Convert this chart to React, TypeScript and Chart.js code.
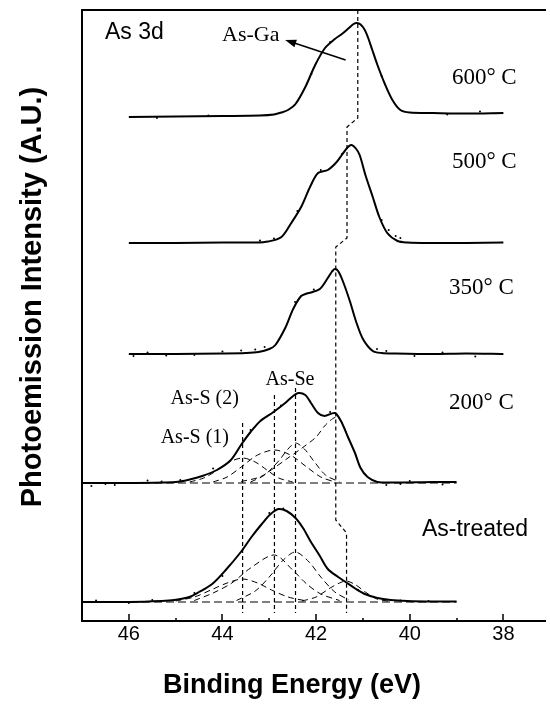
import React, { useEffect, useRef } from "react";
import { Chart, registerables } from "chart.js";

Chart.register(...registerables);

const SANS = '"Liberation Sans", Arial, Helvetica, sans-serif';
const SERIF = '"Liberation Serif", "Times New Roman", Times, serif';

// Binding-energy window (eV); the axis runs from high to low energy
const E_MAX = 47;
const E_MIN = 37.09;
const Y_MAX = 122.2;
const MAJOR_TICKS = [46, 44, 42, 40, 38];
const MINOR_TICKS = [45, 43, 41, 39];

// Vertical offsets of the stacked spectra (A.U.)
const OFFSET_600 = 100.8;
const OFFSET_500 = 75.6;
const OFFSET_350 = 53.4;
const OFFSET_200 = 27.6;
const OFFSET_AT = 3.8;

// As 3d envelopes: energy (eV) and intensity above each baseline
const E_600 = [46.0, 45.0, 44.0, 43.2, 42.9, 42.74, 42.6, 42.44, 42.23, 42.02, 41.81, 41.6, 41.45, 41.3, 41.2, 41.13, 41.05, 40.96, 40.88, 40.8, 40.69, 40.54, 40.37, 40.2, 40.0, 39.5, 38.8, 38.0];
const I_600 = [0, 0.1, 0.2, 0.3, 0.5, 0.9, 1.4, 2.6, 6.0, 10.4, 13.8, 15.6, 16.6, 17.8, 18.6, 18.8, 18.5, 17.4, 15.6, 13.4, 10.4, 6.8, 3.4, 1.4, 0.9, 0.8, 0.7, 0.8];

const E_500 = [46.0, 45.0, 44.0, 43.3, 43.02, 42.74, 42.53, 42.32, 42.13, 41.96, 41.75, 41.58, 41.45, 41.32, 41.24, 41.15, 41.07, 40.94, 40.79, 40.65, 40.48, 40.26, 40.05, 39.5, 38.8, 38.0];
const I_500 = [0, 0, 0.1, 0.1, 0.3, 1.2, 4.0, 7.2, 11.2, 14.0, 14.6, 16.0, 17.6, 19.2, 19.6, 18.9, 17.6, 13.4, 9.2, 5.2, 2.0, 0.4, 0.1, 0, 0, 0.1];

const E_350 = [46.0, 45.0, 44.0, 43.5, 43.23, 43.0, 42.87, 42.66, 42.49, 42.32, 42.2, 42.11, 41.92, 41.75, 41.66, 41.6, 41.53, 41.43, 41.28, 41.15, 41.0, 40.79, 40.6, 40.3, 39.5, 38.8, 38.0];
const I_350 = [0, 0, 0.1, 0.2, 0.4, 1.0, 1.8, 5.2, 9.0, 11.6, 12.1, 12.3, 13.0, 15.2, 16.5, 17.0, 16.6, 14.6, 10.6, 6.6, 3.0, 0.6, 0.2, 0.1, 0, 0.1, 0];

const E_200 = [47.0, 46.0, 45.0, 44.7, 44.43, 44.12, 43.82, 43.59, 43.4, 43.19, 42.91, 42.66, 42.49, 42.38, 42.23, 42.11, 41.96, 41.82, 41.6, 41.47, 41.32, 41.17, 41.05, 40.9, 40.69, 40.3, 39.5, 39.0];
const I_200 = [0, 0, 0.2, 0.7, 1.4, 2.6, 4.6, 7.8, 10.2, 12.4, 14.2, 16.0, 17.4, 18.0, 17.6, 16.0, 14.0, 13.4, 14.0, 12.4, 9.2, 6.0, 3.0, 1.2, 0.2, 0.1, 0.2, 0.2];

const E_AT = [47.0, 46.0, 45.3, 45.03, 44.71, 44.5, 44.22, 43.93, 43.59, 43.38, 43.16, 42.97, 42.8, 42.63, 42.44, 42.28, 42.11, 41.92, 41.75, 41.53, 41.37, 41.15, 40.96, 40.69, 40.41, 40.05, 39.5, 39.0];
const I_AT = [0, 0, 0.2, 0.4, 1.0, 2.0, 3.6, 6.4, 10.2, 13.0, 15.6, 17.6, 18.6, 18.2, 16.8, 14.8, 12.0, 9.2, 6.6, 5.0, 4.0, 2.6, 1.6, 0.8, 0.4, 0.2, 0.1, 0.1];

// Fitted components, 200 °C
const E_200_S1 = [44.7, 44.4, 44.1, 43.85, 43.57, 43.3, 43.05, 42.8, 42.5];
const I_200_S1 = [0.2, 1.0, 2.6, 4.2, 5.0, 4.2, 2.6, 1.0, 0.2];
const E_200_S2 = [44.2, 43.9, 43.6, 43.25, 42.89, 42.55, 42.2, 41.9, 41.6];
const I_200_S2 = [0.2, 1.2, 3.2, 5.6, 6.6, 5.6, 3.2, 1.2, 0.2];
const E_200_SE = [43.4, 43.1, 42.8, 42.6, 42.44, 42.25, 42.05, 41.8, 41.5];
const I_200_SE = [0.2, 1.6, 4.4, 6.8, 8.0, 6.8, 4.4, 1.6, 0.2];
const E_200_GA = [43.6, 43.2, 42.9, 42.6, 42.3, 42.0, 41.8, 41.57, 41.45, 41.32, 41.17, 41.05, 40.9, 40.7];
const I_200_GA = [0.3, 1.2, 3.0, 5.0, 7.0, 9.2, 11.6, 13.2, 12.2, 9.2, 6.0, 3.0, 1.2, 0.2];

// Fitted components, as-treated
const E_AT_S1 = [45.0, 44.6, 44.2, 43.9, 43.57, 43.25, 42.95, 42.6, 42.2];
const I_AT_S1 = [0.2, 1.0, 2.6, 3.8, 4.6, 3.8, 2.4, 1.0, 0.2];
const E_AT_S2 = [44.6, 44.2, 43.8, 43.4, 42.89, 42.5, 42.2, 41.9, 41.5];
const I_AT_S2 = [0.3, 1.8, 3.8, 6.8, 9.4, 6.4, 3.6, 1.6, 0.3];
const E_AT_SE = [43.7, 43.3, 43.0, 42.7, 42.44, 42.15, 41.9, 41.6, 41.3];
const I_AT_SE = [0.3, 2.2, 5.0, 8.4, 10.0, 8.0, 5.0, 2.0, 0.4];
const E_AT_GA = [42.3, 42.0, 41.7, 41.5, 41.35, 41.15, 40.95, 40.7, 40.4];
const I_AT_GA = [0.2, 1.0, 2.8, 3.8, 4.2, 3.4, 2.0, 0.6, 0.1];

// Measured points scattered about the envelopes
const DOTS_600_E = [45.4, 44.3, 42.1, 41.7, 40.6, 39.2, 38.5];
const DOTS_600_I = [-0.2, 0.3, 8.6, 15.0, 8.2, 0.5, 1.1];
const DOTS_500_E = [43.2, 42.9, 42.4, 41.9, 41.45, 40.6, 40.45, 40.3, 40.2];
const DOTS_500_I = [0.5, 0.9, 6.4, 14.6, 17.8, 4.6, 2.6, 1.4, 1.0];
const DOTS_350_E = [45.9, 45.6, 45.2, 44.6, 44.0, 43.6, 43.3, 43.1, 42.45, 42.05, 41.65, 40.7, 40.5, 39.9, 39.3, 38.6];
const DOTS_350_I = [-0.4, 0.3, -0.3, -0.2, 0.5, 0.7, 0.9, 1.4, 10.4, 12.9, 16.6, 1.0, 0.6, -0.4, 0.3, -0.5];
const DOTS_200_E = [46.8, 46.5, 46.3, 45.6, 45.3, 44.9, 44.2, 43.4, 42.75, 41.7, 40.5, 40.2, 40.0, 39.3];
const DOTS_200_I = [-0.6, -0.2, -0.4, 0.5, 0.3, 0.6, 2.9, 10.6, 15.5, 14.2, -0.4, -0.2, 0.4, -0.3];
const DOTS_AT_E = [46.7, 46.0, 45.5, 44.6, 44.0, 43.0, 42.7, 41.1, 40.2, 39.6];
const DOTS_AT_I = [0.3, -0.2, 0.4, 1.8, 5.2, 17.8, 18.7, 2.4, 0.3, 0.2];

// Component positions (eV) and the heights their guide lines reach
const MARKER_E = [43.57, 42.89, 42.44];
const MARKER_TOP = [39.6, 45.2, 46.6];
const MARKER_BOTTOM = 1.6;

// As-Ga peak position followed through the series
const GA_GUIDE_E = [41.11, 41.11, 41.34, 41.34, 41.58, 41.58, 41.35, 41.35];
const GA_GUIDE_Y = [122.2, 100.6, 98.8, 76.6, 74.8, 20.2, 17.6, 1.6];

// Baselines of the fitted spectra
const BASE_E = [47.0, 39.0];

const LABELS = [
  { text: "As 3d", e: 46.51, y: 117.6, font: `23px ${SANS}` },
  { text: "As-Ga", e: 44.01, y: 117.2, font: `22px ${SERIF}` },
  { text: "600° C", e: 39.1, y: 108.6, font: `23px ${SERIF}` },
  { text: "500° C", e: 39.1, y: 91.8, font: `23px ${SERIF}` },
  { text: "350° C", e: 39.16, y: 66.6, font: `23px ${SERIF}` },
  { text: "200° C", e: 39.16, y: 43.6, font: `23px ${SERIF}` },
  { text: "As-treated", e: 39.74, y: 18.2, font: `23px ${SANS}` },
  { text: "As-S (2)", e: 45.11, y: 44.4, font: `20px ${SERIF}` },
  { text: "As-S (1)", e: 45.32, y: 36.6, font: `20px ${SERIF}` },
  { text: "As-Se", e: 43.08, y: 48.2, font: `20px ${SERIF}` },
];

const ARROW_FROM = [41.37, 112.2];
const ARROW_TO = [42.66, 116.2];

const X_TITLE = "Binding Energy (eV)";
const Y_TITLE = "Photoemission Intensity (A.U.)";

const toPoints = (E: number[], I: number[], off: number) =>
  E.map((e, i) => ({ x: e, y: I[i] + off }));

const envelope = (E: number[], I: number[], off: number) => ({
  data: toPoints(E, I, off),
  borderColor: "#000",
  borderWidth: 2,
  pointRadius: 0,
  tension: 0.3,
  fill: false,
});

const component = (E: number[], I: number[], off: number) => ({
  data: toPoints(E, I, off),
  borderColor: "#000",
  borderWidth: 1,
  borderDash: [6, 4],
  pointRadius: 0,
  tension: 0.3,
  fill: false,
});

const dots = (E: number[], I: number[], off: number) => ({
  data: toPoints(E, I, off),
  showLine: false,
  pointRadius: 1,
  pointBorderWidth: 0,
  pointBackgroundColor: "#000",
  borderColor: "#000",
});

const guide = (pts: { x: number; y: number }[], dash: number[], width = 1.2) => ({
  data: pts,
  borderColor: "#000",
  borderWidth: width,
  borderDash: dash,
  pointRadius: 0,
  tension: 0,
  fill: false,
});

const framePlugin = {
  id: "frameAndText",
  afterDraw(chart: any) {
    const { ctx, chartArea, scales } = chart;
    const { left, top, right, bottom } = chartArea;
    const xs = scales.x;
    const ys = scales.y;
    ctx.save();
    ctx.strokeStyle = "#000";
    ctx.fillStyle = "#000";
    ctx.setLineDash([]);

    // frame: left, top and bottom edges
    ctx.lineWidth = 2;
    ctx.beginPath();
    ctx.moveTo(right, top);
    ctx.lineTo(left, top);
    ctx.lineTo(left, bottom);
    ctx.lineTo(right, bottom);
    ctx.stroke();

    // inward tick marks on the energy axis
    ctx.lineWidth = 1.5;
    ctx.beginPath();
    MAJOR_TICKS.forEach((v) => {
      const px = Math.round(xs.getPixelForValue(v));
      ctx.moveTo(px, bottom);
      ctx.lineTo(px, bottom - 7);
    });
    MINOR_TICKS.forEach((v) => {
      const px = Math.round(xs.getPixelForValue(v));
      ctx.moveTo(px, bottom);
      ctx.lineTo(px, bottom - 3);
    });
    ctx.stroke();

    // annotations
    ctx.textAlign = "left";
    ctx.textBaseline = "middle";
    LABELS.forEach((l) => {
      ctx.font = l.font;
      ctx.fillText(l.text, xs.getPixelForValue(l.e), ys.getPixelForValue(l.y));
    });

    // arrow pointing to the As-Ga label
    const x0 = xs.getPixelForValue(ARROW_FROM[0]);
    const y0 = ys.getPixelForValue(ARROW_FROM[1]);
    const x1 = xs.getPixelForValue(ARROW_TO[0]);
    const y1 = ys.getPixelForValue(ARROW_TO[1]);
    const ang = Math.atan2(y1 - y0, x1 - x0);
    const head = 11;
    ctx.lineWidth = 1.6;
    ctx.beginPath();
    ctx.moveTo(x0, y0);
    ctx.lineTo(x1 - Math.cos(ang) * head * 0.8, y1 - Math.sin(ang) * head * 0.8);
    ctx.stroke();
    ctx.beginPath();
    ctx.moveTo(x1, y1);
    ctx.lineTo(x1 - head * Math.cos(ang) + 4 * Math.sin(ang), y1 - head * Math.sin(ang) - 4 * Math.cos(ang));
    ctx.lineTo(x1 - head * Math.cos(ang) - 4 * Math.sin(ang), y1 - head * Math.sin(ang) + 4 * Math.cos(ang));
    ctx.closePath();
    ctx.fill();

    // axis titles
    ctx.textAlign = "center";
    ctx.font = `bold 27px ${SANS}`;
    ctx.fillText(X_TITLE, 292, 686);
    ctx.font = `bold 29px ${SANS}`;
    ctx.translate(33, 297);
    ctx.rotate(-Math.PI / 2);
    ctx.fillText(Y_TITLE, 0, 0);
    ctx.restore();
  },
};

export default function App() {
  const canvasRef = useRef<HTMLCanvasElement | null>(null);

  useEffect(() => {
    const canvas = canvasRef.current;
    if (!canvas) return;

    const markerLines = MARKER_E.map((e, i) =>
      guide(
        [
          { x: e, y: MARKER_TOP[i] },
          { x: e, y: MARKER_BOTTOM },
        ],
        [4, 3]
      )
    );
    const gaGuide = guide(
      GA_GUIDE_E.map((e, i) => ({ x: e, y: GA_GUIDE_Y[i] })),
      [4, 3]
    );
    const baselines = [OFFSET_200, OFFSET_AT].map((off) =>
      guide(BASE_E.map((e) => ({ x: e, y: off })), [8, 4], 1.2)
    );

    const chart = new Chart(canvas, {
      type: "line",
      data: {
        datasets: [
          envelope(E_600, I_600, OFFSET_600),
          envelope(E_500, I_500, OFFSET_500),
          envelope(E_350, I_350, OFFSET_350),
          envelope(E_200, I_200, OFFSET_200),
          envelope(E_AT, I_AT, OFFSET_AT),
          component(E_200_S1, I_200_S1, OFFSET_200),
          component(E_200_S2, I_200_S2, OFFSET_200),
          component(E_200_SE, I_200_SE, OFFSET_200),
          component(E_200_GA, I_200_GA, OFFSET_200),
          component(E_AT_S1, I_AT_S1, OFFSET_AT),
          component(E_AT_S2, I_AT_S2, OFFSET_AT),
          component(E_AT_SE, I_AT_SE, OFFSET_AT),
          component(E_AT_GA, I_AT_GA, OFFSET_AT),
          dots(DOTS_600_E, DOTS_600_I, OFFSET_600),
          dots(DOTS_500_E, DOTS_500_I, OFFSET_500),
          dots(DOTS_350_E, DOTS_350_I, OFFSET_350),
          dots(DOTS_200_E, DOTS_200_I, OFFSET_200),
          dots(DOTS_AT_E, DOTS_AT_I, OFFSET_AT),
          ...markerLines,
          gaGuide,
          ...baselines,
        ] as any,
      },
      options: {
        animation: false,
        responsive: false,
        devicePixelRatio: 1,
        layout: { padding: { left: 82, top: 10, right: 0, bottom: 0 } },
        plugins: {
          legend: { display: false },
          tooltip: { enabled: false },
        },
        scales: {
          x: {
            type: "linear",
            reverse: true,
            min: E_MIN,
            max: E_MAX,
            afterBuildTicks: (scale: any) => {
              scale.ticks = MAJOR_TICKS.map((v) => ({ value: v }));
            },
            afterFit: (scale: any) => {
              scale.height = 88;
            },
            grid: { display: false, drawTicks: false },
            border: { display: false },
            ticks: {
              color: "#000",
              padding: 1,
              maxRotation: 0,
              font: { family: SANS, size: 20 },
              callback: (v: any) => String(v),
            },
          },
          y: {
            display: false,
            min: 0,
            max: Y_MAX,
          },
        },
      },
      plugins: [framePlugin],
    });

    return () => chart.destroy();
  }, []);

  return (
    <div
      style={{
        position: "fixed",
        left: 0,
        top: 0,
        width: 550,
        height: 709,
        background: "#fff",
      }}
    >
      <canvas ref={canvasRef} width={550} height={709} style={{ display: "block" }} />
    </div>
  );
}
